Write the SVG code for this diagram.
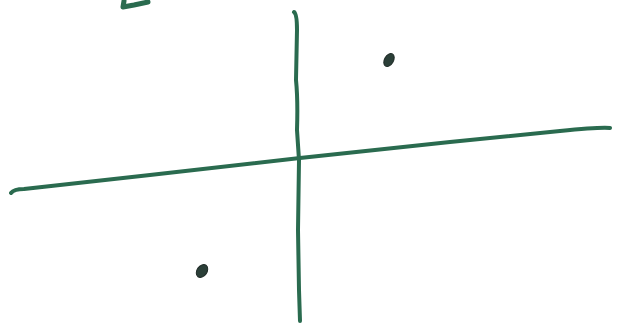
<svg xmlns="http://www.w3.org/2000/svg" width="622" height="326" viewBox="0 0 622 326">
<style>
.ln{fill:none;stroke:#2a6b4f;stroke-width:4;stroke-linecap:round;stroke-linejoin:round}
.dot{fill:#2b3f38;stroke:#1e2a26;stroke-width:1}
</style>
<rect width="622" height="326" fill="#ffffff"/>
<g id="connectors">
<path class="ln" d="M11,193 Q14,189 24,189 L150,175 L300,158 L450,142 L560,131 Q600,127 610,128"/>
<path class="ln" d="M294,12 Q297,14 297,30 L296,80 Q298,100 297,130 L299,160 L298,230 L299,290 L300,321"/>
<path class="ln" style="stroke-width:5" d="M124,1 L123,7 L134,5 L148,2"/>
</g>
<g id="dot1"><ellipse class="dot" cx="389" cy="60" rx="4.5" ry="7" transform="rotate(30 389 60)"/></g>
<g id="dot2"><ellipse class="dot" cx="202" cy="271" rx="5" ry="7" transform="rotate(35 202 271)"/></g>
</svg>
